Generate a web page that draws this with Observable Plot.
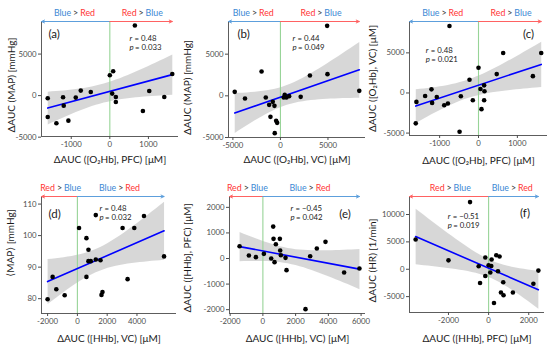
<!DOCTYPE html>
<html><head><meta charset="utf-8">
<script src="https://cdn.jsdelivr.net/npm/d3@7"></script>
<script src="https://cdn.jsdelivr.net/npm/@observablehq/plot@0.6"></script>
<style>
body{margin:0;background:#fff;}
#wrap{position:relative;width:550px;height:350px;overflow:hidden;background:#fff;}
#wrap svg{position:absolute;overflow:visible;}
</style></head><body><div id="wrap"></div>
<script>
// ---- data ----
const aX = [-1610, -1610, -1385, -1212, -1195, -1074, -883, -753, -494, 0, 87, 61, 156, 156, 649, 857, 1022, 1411, 1619];
const aY = [-321, -2570, -3333, -200, -1205, -3012, -241, 602, 442, 2450, 2932, 241, -161, -763, 8434, -1847, 562, -161, 2610];
const bX = [-4808, -3728, -1986, -1541, -1186, -808, -630, -1049, -451, -346, -598, 451, 346, 630, 913, 2130, 3101, 4948, 4913, 8293];
const bY = [480, -320, 2920, -200, -1080, -720, -1200, -2520, -3000, -3240, -4480, 120, -200, -200, -40, -120, 2440, 2600, 8400, 600];
const cX = [-1614, -1597, -1373, -1210, -1193, -1073, -882, -787, -747, -487, -454, -231, -146, 0, 51, 77, 145, 154, 145, 469, 635, 1399, 1614];
const cY = [-3786, -1111, -370, 453, -1235, -494, -1522, -1312, 8354, -4827, -408, 1658, -903, 3143, 495, -2017, 953, 210, -903, 2351, 4979, 2099, 4979];
const dX = [-2000, -1663, -1416, -854, 112, 607, 607, 742, 742, 899, 1236, 1236, 1551, 1618, 1685, 3034, 3371, 3820, 4472, 5820];
const dY = [79.8, 86.9, 83.0, 81.1, 102.4, 99.2, 86.9, 95.5, 91.9, 91.9, 106.5, 92.4, 92.2, 81.2, 82.1, 102.4, 86.2, 102.4, 106.2, 93.4];
const eX = [-1424, -855, -427, 61, 509, 631, 651, 712, 793, 1037, 1058, 1099, 1383, 1444, 2604, 2889, 3296, 3825, 4964, 5900];
const eY = [482, 117, 52, 182, 0, 1248, 769, -143, 560, 769, 313, 130, 26, -456, -1980, 91, 391, 651, -547, -391];
const fX = [-3636, -2000, -926, -164, 382, 545, 149, -496, 0, 134, -164, 84, 466, -426, 729, 615, 744, 1210, 268, 2231, 2479];
const fY = [5440, 1630, 12270, 2139, 2559, 2322, 1773, 548, 731, 603, -1225, -603, -366, -2505, -2377, -4260, -4753, -4260, -6161, -2660, -242];

const aXTicks = [-1000, 0, 1000], aYTicks = [-5000, 0, 5000];
const bXTicks = [-5000, 0, 5000], bYTicks = [-5000, 0, 5000];
const cXTicks = [-1000, 0, 1000], cYTicks = [-5000, 0, 5000];
const dXTicks = [-2000, 0, 2000, 4000], dYTicks = [80, 90, 100, 110];
const eXTicks = [-2000, 0, 2000, 4000, 6000], eYTicks = [-2000, -1000, 0, 1000, 2000];
const fXTicks = [-2000, 0, 2000], fYTicks = [-5000, 0, 5000, 10000];

const xLabels = ["ΔAUC ([O₂Hb], PFC) [μM]", "ΔAUC ([O₂Hb], VC) [μM]", "ΔAUC ([O₂Hb], PFC) [μM]",
                 "ΔAUC ([HHb], VC) [μM]", "ΔAUC ([HHb], VC) [μM]", "ΔAUC ([HHb], PFC) [μM]"];
const yLabels = ["ΔAUC (MAP) [mmHg]", "ΔAUC (MAP) [mmHg]", "ΔAUC ([O₂Hb], VC) [μM]",
                 "⟨MAP⟩ [mmHg]", "ΔAUC ([HHb], PFC) [μM]", "ΔAUC (HR) [1/min]"];
const letters = ["(a)", "(b)", "(c)", "(d)", "(e)", "(f)"];
const rValues = ["0.48", "0.44", "0.48", "0.48", "−0.45", "−0.51"];
const pValues = ["0.033", "0.049", "0.021", "0.032", "0.042", "0.019"];

// ---- layout / style ----
const BLUE_TXT = "#3b87d4", RED_TXT = "#ff3535", BLUE_ARR = "#5d9fdc", RED_ARR = "#ff6262";
const FONT = "Lato, 'Open Sans', 'DejaVu Sans', sans-serif";
const panels = [
  {xs:aX, ys:aY, xd:[-1771,1780], yd:[-4920,8920], xt:aXTicks, yt:aYTicks, top:true,  left:0,   tp:0,   w:183, m:[21,5,39,41], yl:[-30,6],   xl:23,   st:[88,17],  lt:["start",7,12.6]},
  {xs:bX, ys:bY, xd:[-5463,8948], yd:[-5000,8920], xt:bXTicks, yt:bYTicks, top:true,  left:183, tp:0,   w:183, m:[21,1,38,45], yl:[-40.5,8], xl:22.5, st:[64,17],  lt:["start",9,12.6]},
  {xs:cX, ys:cY, xd:[-1775,1775], yd:[-5300,8910], xt:cXTicks, yt:cYTicks, top:true,  left:366, tp:0,   w:184, m:[21,3,40,43], yl:[-36.5,0], xl:25,   st:[16.3,29.3], lt:["end",-13.4,12.6]},
  {xs:dX, ys:dY, xd:[-2410,6655], yd:[75.3,112.4], xt:dXTicks, yt:dYTicks, top:false, left:0,   tp:175, w:183, m:[21,7,37,41], yl:[-31,-12], xl:25,   st:[58,11.6], lt:["start",7,17.6]},
  {xs:eX, ys:eY, xd:[-2040,6270], yd:[-2150,2424], xt:eXTicks, yt:eYTicks, top:false, left:183, tp:175, w:183, m:[21,1,37,46], yl:[-42,3],   xl:25.5, st:[61,11.6], lt:["end",-14.7,17.6]},
  {xs:fX, ys:fY, xd:[-3942,2785], yd:[-7900,13290], xt:fXTicks, yt:fYTicks, top:false, left:366, tp:175, w:184, m:[21,6,38,43], yl:[-37,6],  xl:26,   st:[38.2,20.4], lt:["end",-14.5,17]}
];

const fmt = d => String(d);
const wrap = document.getElementById("wrap");

panels.forEach((p, i) => {
  const data = p.xs.map((x, j) => ({x, y: p.ys[j]}));
  const x0 = p.xd[0], xmax = d3.max(p.xs), ytop = p.yd[1];
  const lw = p.top ? ["Blue", "Red"] : ["Red", "Blue"];
  const rw = p.top ? ["Red", "Blue"] : ["Blue", "Red"];
  const tc = w => w === "Blue" ? BLUE_TXT : RED_TXT;
  const ac = w => w === "Blue" ? BLUE_ARR : RED_ARR;
  const words = (cx, ws) => [
    Plot.text([{x: cx, y: ytop, t: ws[0]}], {x: "x", y: "y", text: "t", fill: tc(ws[0]), textAnchor: "end", dx: -4.5, dy: -8.5, fontSize: 8.8}),
    Plot.text([{x: cx, y: ytop, t: ">"}], {x: "x", y: "y", text: "t", fill: "#333", textAnchor: "middle", dy: -8.5, fontSize: 8.8}),
    Plot.text([{x: cx, y: ytop, t: ws[1]}], {x: "x", y: "y", text: "t", fill: tc(ws[1]), textAnchor: "start", dx: 4.5, dy: -8.5, fontSize: 8.8})
  ];
  const svg = Plot.plot({
    width: p.w, height: 175,
    marginTop: p.m[0], marginRight: p.m[1], marginBottom: p.m[2], marginLeft: p.m[3],
    style: {fontFamily: FONT, fontSize: "7.8px", background: "transparent", overflow: "visible"},
    x: {domain: p.xd},
    y: {domain: p.yd},
    marks: [
      Plot.linearRegressionY(data, {x: "x", y: "y", stroke: "none", fill: "#9a9a9a", fillOpacity: 0.4}),
      Plot.ruleX([0], {stroke: "#97d497", strokeWidth: 1.1}),
      Plot.linearRegressionY(data, {x: "x", y: "y", stroke: "#0000ff", strokeWidth: 1.6, ci: 0}),
      Plot.ruleX([x0], {stroke: "#333", strokeWidth: 0.8}),
      Plot.ruleY([p.yd[0]], {stroke: "#333", strokeWidth: 0.8}),
      Plot.axisX(p.xt, {tickSize: 3, tickPadding: 2, tickFormat: fmt, label: null, fontSize: 7.8, color: "#4d4d4d"}),
      Plot.axisY(p.yt, {tickSize: 3, tickPadding: 2, tickFormat: fmt, label: null, fontSize: 7.8, color: "#4d4d4d"}),
      Plot.arrow([{x1: 0, x2: x0, y: ytop}], {x1: "x1", x2: "x2", y1: "y", y2: "y", stroke: ac(lw[0]), strokeWidth: 1, headLength: 5, headAngle: 50}),
      Plot.arrow([{x1: 0, x2: xmax, y: ytop}], {x1: "x1", x2: "x2", y1: "y", y2: "y", stroke: ac(rw[0]), strokeWidth: 1, headLength: 5, headAngle: 50}),
      ...words(x0 / 2, lw),
      ...words(xmax / 2, rw),
      Plot.dot(data, {x: "x", y: "y", r: 2.3, fill: "black", stroke: "none"}),
      Plot.text(["r"], {frameAnchor: "top-left", dx: p.st[0], dy: p.st[1], textAnchor: "start", lineAnchor: "middle", fontStyle: "italic", fontSize: 7.8, fill: "#222"}),
      Plot.text(["= " + rValues[i]], {frameAnchor: "top-left", dx: p.st[0] + 5, dy: p.st[1], textAnchor: "start", lineAnchor: "middle", fontSize: 7.8, fill: "#222"}),
      Plot.text(["p"], {frameAnchor: "top-left", dx: p.st[0], dy: p.st[1] + 9, textAnchor: "start", lineAnchor: "middle", fontStyle: "italic", fontSize: 7.8, fill: "#222"}),
      Plot.text(["= " + pValues[i]], {frameAnchor: "top-left", dx: p.st[0] + 5.5, dy: p.st[1] + 9, textAnchor: "start", lineAnchor: "middle", fontSize: 7.8, fill: "#222"}),
      Plot.text([letters[i]], {frameAnchor: p.lt[0] === "start" ? "top-left" : "top-right", textAnchor: p.lt[0], dx: p.lt[1], dy: p.lt[2], lineAnchor: "middle", fontSize: 11.5, fill: "#1a1a1a"}),
      Plot.text([xLabels[i]], {frameAnchor: "bottom", dy: p.xl, lineAnchor: "middle", fontSize: 10, fill: "#1a1a1a"}),
      Plot.text([yLabels[i]], {frameAnchor: "left", rotate: -90, dx: p.yl[0], dy: p.yl[1], textAnchor: "middle", lineAnchor: "middle", fontSize: 10, fill: "#1a1a1a"})
    ]
  });
  svg.style.left = p.left + "px";
  svg.style.top = p.tp + "px";
  wrap.appendChild(svg);
});
</script>
</body></html>
